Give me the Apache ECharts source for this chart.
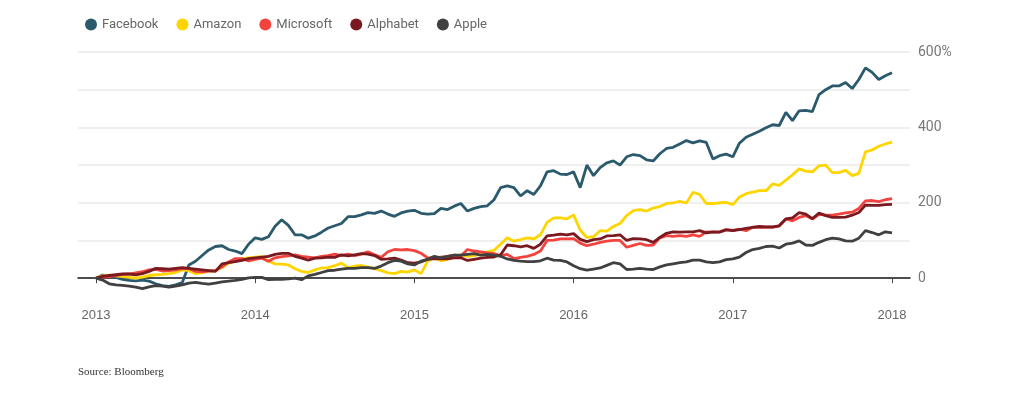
<!DOCTYPE html>
<html>
<head>
<meta charset="utf-8">
<script src="https://cdn.jsdelivr.net/npm/echarts@6/dist/echarts.min.js"></script>
<style>
  html, body { margin: 0; padding: 0; background: #fff; }
  #myStockChart { width: 1026px; height: 398px; }
</style>
</head>
<body>
<div id="myStockChart"></div>
<script>
  // cumulative return in %, one value every half month from Jan 2013 to Jan 2018
  var facebook = [0, 8, 5, 2, -3, -6, -7, -5, -8, -15, -20, -22, -18, -12, 35, 45, 60, 75, 84, 86,
    76, 72, 65, 90, 107, 103, 110, 138, 155, 140, 115, 115, 106, 112, 122, 133, 139, 145, 163, 163,
    168, 174, 172, 178, 170, 164, 173, 178, 180, 172, 170, 171, 185, 182, 191, 198, 178, 185, 190, 192,
    208, 240, 245, 240, 218, 232, 222, 245, 282, 285, 276, 275, 282, 240, 300, 272, 293, 306, 311, 300,
    322, 328, 325, 314, 311, 330, 344, 347, 356, 365, 359, 364, 360, 316, 325, 329, 322, 358, 374, 382,
    390, 399, 407, 405, 440, 418, 444, 445, 442, 487, 500, 510, 510, 519, 503, 527, 558, 546, 527, 537, 545];
  var amazon = [0, 6, 8, 6, 4, 2, 0, 3, 7, 9, 10, 12, 15, 22, 20, 12, 14, 19, 20, 28,
    40, 46, 52, 54, 56, 57, 45, 38, 37, 35, 25, 18, 15, 22, 27, 28, 33, 40, 28, 32,
    34, 29, 25, 20, 14, 12, 18, 16, 22, 12, 45, 54, 46, 50, 57, 62, 58, 60, 64, 70,
    74, 90, 107, 98, 102, 107, 104, 115, 148, 160, 160, 157, 168, 127, 108, 110, 126, 125, 137, 145,
    166, 179, 182, 178, 186, 190, 198, 200, 204, 199, 228, 222, 198, 198, 200, 201, 195, 215, 224, 228,
    232, 232, 250, 246, 260, 274, 290, 284, 282, 298, 300, 280, 280, 286, 272, 278, 335, 340, 350, 356, 361];
  var microsoft = [0, 3, 4, 7, 10, 11, 14, 17, 22, 23, 19, 20, 22, 25, 26, 18, 17, 19, 20, 30,
    43, 52, 52, 46, 50, 53, 45, 54, 57, 59, 62, 58, 56, 54, 58, 60, 64, 60, 64, 60,
    64, 70, 62, 55, 70, 76, 75, 76, 73, 66, 54, 54, 56, 58, 61, 59, 76, 72, 70, 67,
    65, 60, 63, 52, 55, 58, 63, 72, 100, 101, 104, 104, 105, 93, 86, 90, 95, 98, 100, 100,
    82, 87, 92, 87, 88, 107, 113, 111, 113, 111, 115, 111, 123, 122, 123, 129, 127, 130, 126, 135,
    135, 135, 135, 139, 157, 152, 161, 166, 157, 169, 167, 167, 170, 173, 175, 185, 205, 206, 203, 208, 211];
  var alphabet = [0, 5, 7, 9, 11, 11, 9, 12, 18, 26, 25, 24, 26, 28, 26, 24, 22, 20, 18, 38,
    41, 44, 47, 52, 54, 56, 58, 63, 66, 66, 58, 53, 48, 53, 54, 56, 55, 62, 59, 62,
    65, 64, 60, 50, 51, 53, 48, 41, 40, 43, 50, 52, 51, 51, 54, 54, 47, 50, 53, 55,
    56, 62, 88, 86, 83, 86, 79, 90, 112, 114, 117, 115, 118, 103, 97, 102, 104, 112, 113, 115,
    100, 105, 104, 102, 95, 108, 119, 123, 122, 123, 123, 126, 120, 123, 122, 128, 126, 129, 132, 135,
    137, 136, 136, 139, 157, 160, 174, 170, 158, 173, 166, 161, 161, 162, 167, 174, 194, 193, 193, 195, 196];
  var apple = [0, -5, -15, -18, -19, -21, -24, -28, -23, -20, -21, -24, -21, -18, -13, -11, -14, -16, -13, -10,
    -8, -6, -3, 1, 2, 2, -4, -3, -3, -2, 0, -4, 6, 10, 15, 20, 21, 24, 26, 26,
    28, 28, 26, 32, 41, 47, 45, 38, 35, 45, 50, 58, 54, 58, 61, 61, 63, 65, 61, 63,
    61, 58, 51, 47, 45, 44, 44, 46, 53, 48, 47, 43, 33, 25, 21, 24, 27, 34, 41, 38,
    23, 24, 26, 24, 23, 30, 35, 38, 41, 43, 48, 48, 43, 41, 43, 49, 51, 56, 68, 76,
    79, 84, 85, 80, 90, 93, 99, 88, 87, 95, 102, 106, 104, 99, 98, 106, 126, 121, 115, 123, 120];

  var yearTicks = [2013, 2014, 2015, 2016, 2017, 2018];
  var yLabels = [0, 200, 400, 600];

  // x position of each value: half month steps
  var halfMonths = facebook.map(function (v, i) { return 2013 + i / 24; });

  function pairs(list) {
    return list.map(function (v, i) { return [halfMonths[i], v]; });
  }

  function makeLine(name, color, list) {
    return {
      name: name,
      type: 'line',
      data: pairs(list),
      showSymbol: false,
      symbol: 'circle',
      lineStyle: { color: color, width: 2.8 },
      itemStyle: { color: color },
      emphasis: { disabled: true },
      animation: false
    };
  }

  // split lines at -50, 0, 50 ... 600: zero line darker, only hundreds shown
  var gridColors = [];
  for (var v = -50; v <= 600; v += 50) {
    if (v === 0) gridColors.push('#c4c4c4');
    else if (v > 0 && v % 100 === 0) gridColors.push('#eaeaea');
    else gridColors.push('rgba(0,0,0,0)');
  }

  var myChart = echarts.init(document.getElementById('myStockChart'));
  var option = {
    backgroundColor: '#fff',
    legend: {
      left: 80,
      top: 13,
      icon: 'circle',
      itemWidth: 12,
      itemHeight: 12,
      itemGap: 18,
      textStyle: { color: '#666', fontSize: 13, fontFamily: 'Roboto' }
    },
    grid: { left: 78, right: 116, top: 52, bottom: 101 },
    xAxis: {
      type: 'value',
      min: 2012.887,
      max: 2018.113,
      axisLine: { lineStyle: { color: '#222', width: 1.5 } },
      axisTick: { customValues: yearTicks, length: 5, lineStyle: { color: '#444' } },
      axisLabel: {
        customValues: yearTicks,
        margin: 12,
        color: '#666',
        fontSize: 13,
        fontFamily: 'Liberation Sans Narrow, Liberation Sans',
        formatter: function (v) { return String(v); }
      },
      splitLine: { show: false }
    },
    yAxis: {
      type: 'value',
      position: 'right',
      min: -50,
      max: 600,
      interval: 50,
      axisLine: { show: false },
      axisTick: { show: false },
      axisLabel: {
        margin: 8,
        color: '#777',
        fontSize: 14,
        fontFamily: 'Roboto',
        formatter: function (v) {
          if (yLabels.indexOf(v) < 0) return '';
          return v === 600 ? '600%' : String(v);
        }
      },
      splitLine: {
        lineStyle: { width: 1.5, color: gridColors }
      }
    },
    graphic: [{
      type: 'text',
      left: 78,
      top: 367,
      style: { text: 'Source: Bloomberg', fill: '#333', font: '11px "Liberation Serif", serif' }
    }],
    series: [
      makeLine('Facebook', '#2a5a6c', facebook),
      makeLine('Amazon', '#ffd500', amazon),
      makeLine('Microsoft', '#f2433f', microsoft),
      makeLine('Alphabet', '#7a1a20', alphabet),
      makeLine('Apple', '#404040', apple)
    ]
  };
  myChart.setOption(option);
</script>
</body>
</html>
